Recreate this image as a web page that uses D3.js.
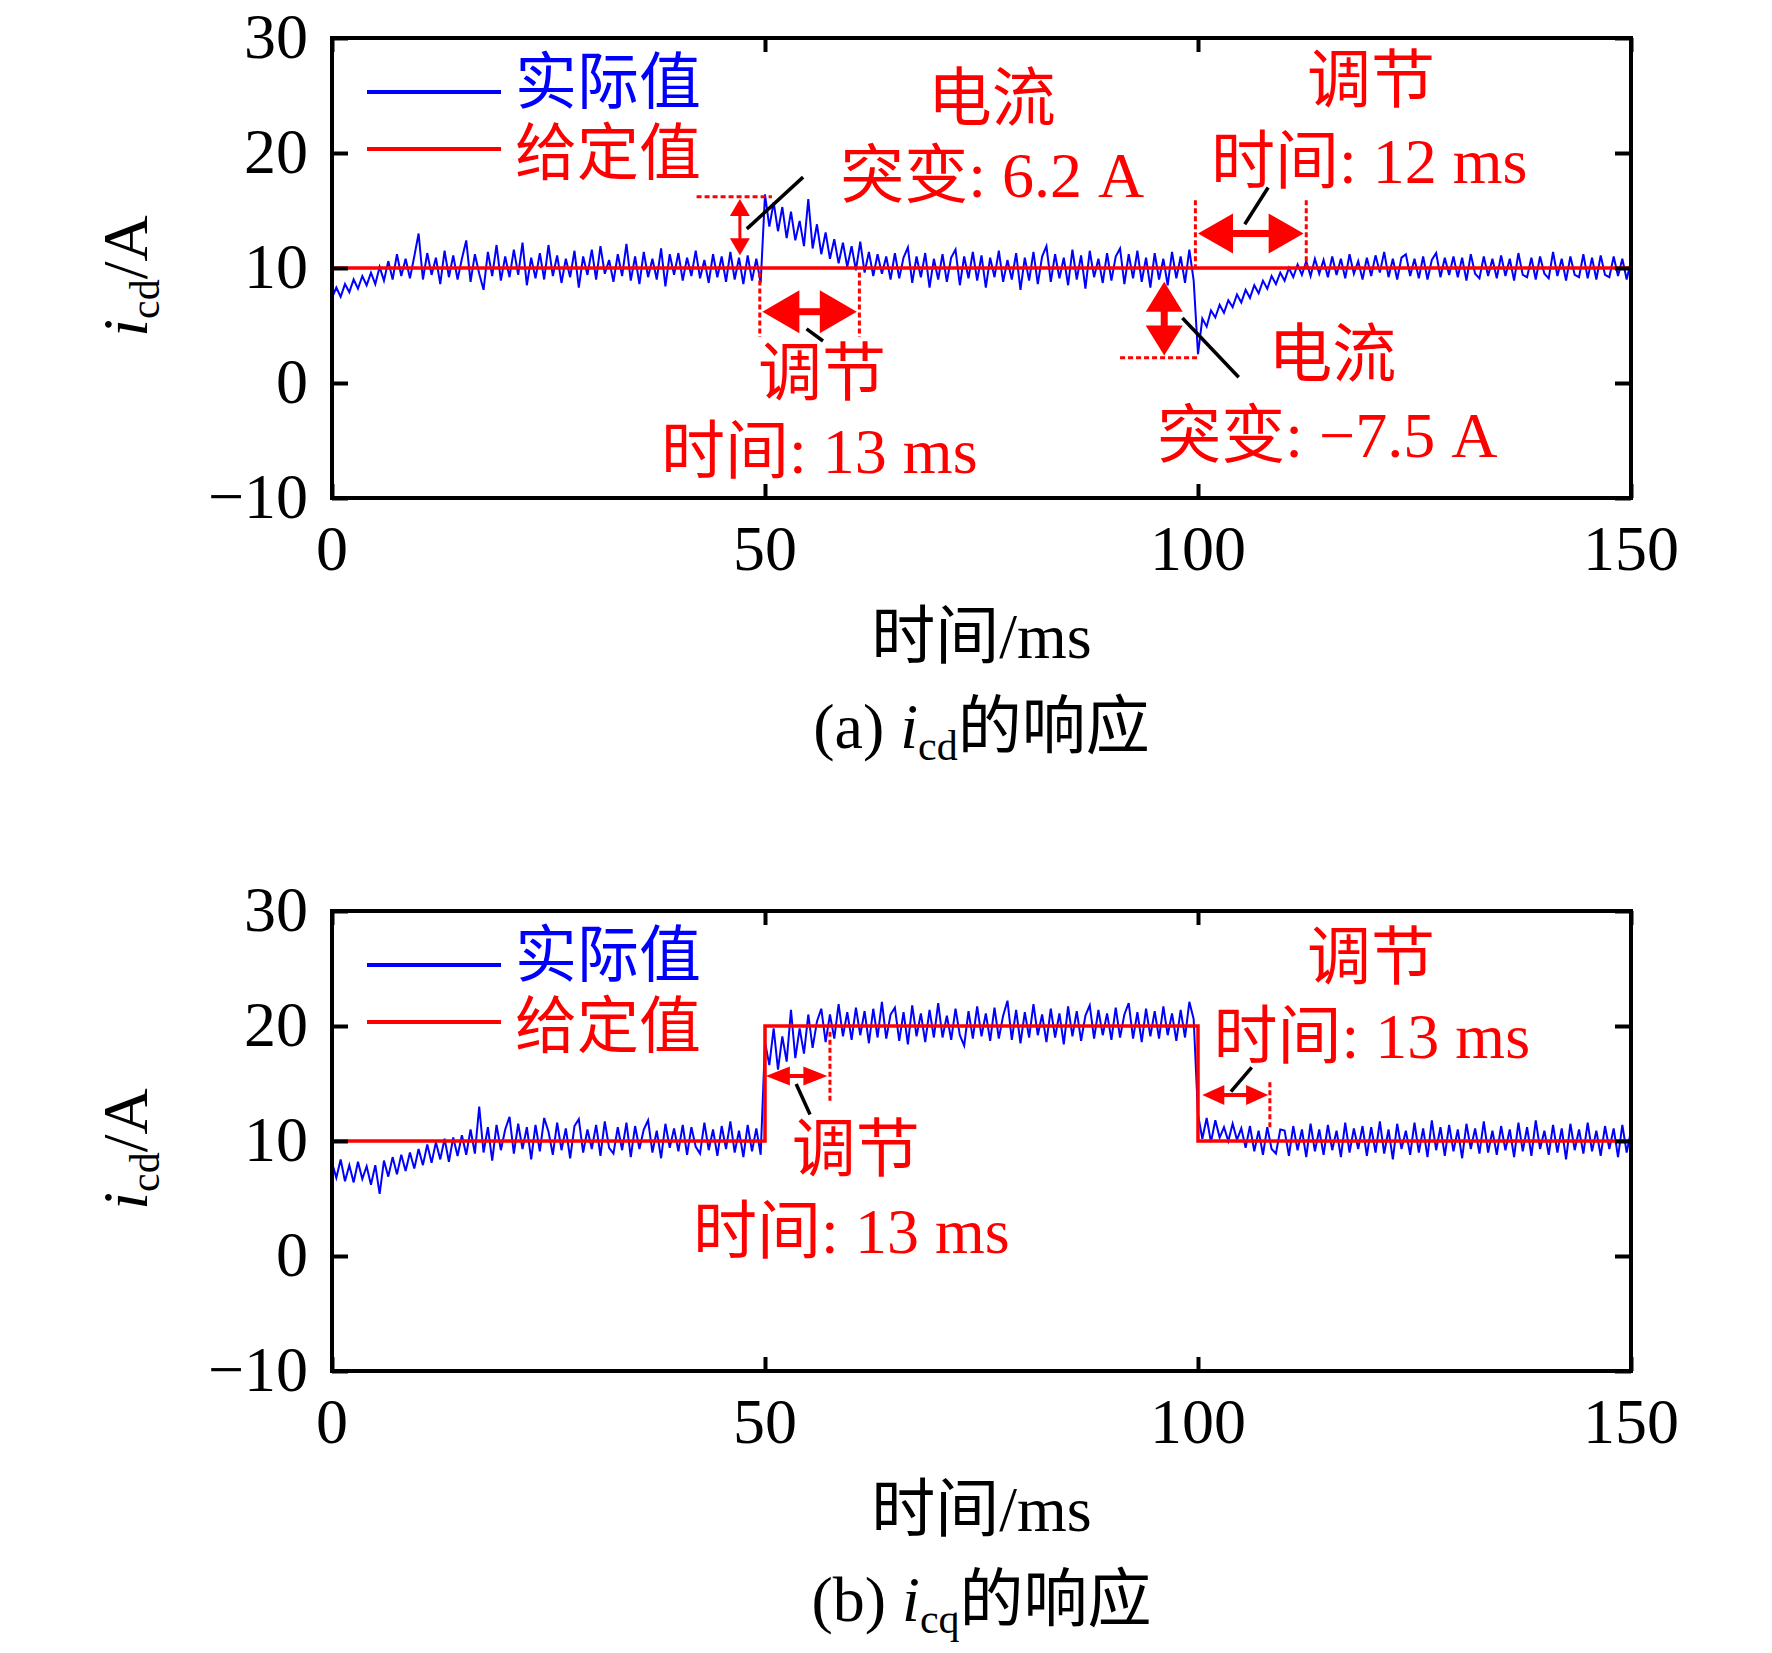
<!DOCTYPE html>
<html>
<head>
<meta charset="utf-8">
<script src="https://cdn.jsdelivr.net/npm/d3@7"></script>
<style>
  body { margin: 0; background: #fff; }
  text { font-family: "Liberation Serif", "Noto Sans CJK SC", serif; }
</style>
</head>
<body>
<div id="chart"></div>
<script>
// sampling step of the measured currents, ms
const timeStep = 0.5;

const icdActual = [
  7.4, 8.3, 7.5, 8.6, 7.9, 9.0, 8.2, 9.3, 8.5, 9.6,
  8.6, 10.1, 8.9, 10.6, 9.0, 11.2, 9.3, 10.8, 9.1, 11.0,
  13.0, 9.0, 11.3, 9.4, 10.9, 8.6, 11.5, 9.2, 11.1, 9.0,
  10.8, 12.4, 8.8, 11.2, 9.5, 8.1, 11.4, 9.3, 12.0, 8.9,
  11.0, 9.2, 11.6, 9.4, 12.2, 8.5, 10.9, 9.1, 11.3, 9.0,
  12.0, 9.3, 11.1, 8.7, 10.8, 9.2, 11.5, 8.3, 11.0, 9.4,
  11.6, 9.0, 11.9, 9.5, 10.7, 8.8, 11.2, 9.3, 12.1, 8.9,
  11.0, 8.6, 11.4, 9.2, 10.8, 9.0, 11.7, 8.4, 11.2, 9.4,
  11.3, 8.9, 10.9, 9.3, 11.5, 9.1, 10.7, 8.7, 11.2, 9.2,
  11.0, 8.8, 11.4, 9.0, 10.9, 8.6, 11.1, 8.9, 10.8, 8.7,
  16.4, 13.6, 15.7, 13.2, 15.3, 12.6, 14.9, 12.4, 14.1, 11.9,
  16.0, 11.7, 13.8, 11.2, 13.1, 10.8, 12.5, 10.4, 12.2, 10.1,
  11.9, 9.8, 12.3, 9.6, 11.4, 9.3, 11.2, 9.5, 11.0, 9.0,
  11.3, 9.1, 10.9, 11.8, 8.7, 11.0, 9.2, 11.3, 8.3, 10.8,
  9.0, 11.2, 8.8, 10.9, 11.6, 8.5, 11.0, 9.1, 11.4, 8.9,
  11.1, 8.3, 10.9, 9.2, 11.5, 8.8, 10.7, 9.0, 11.3, 8.1,
  10.9, 8.9, 11.4, 8.6, 11.0, 11.9, 8.8, 11.2, 9.1, 10.9,
  8.5, 11.6, 9.0, 11.1, 8.2, 11.5, 9.2, 10.8, 8.7, 11.3,
  8.9, 11.0, 11.7, 8.6, 11.2, 9.1, 11.5, 8.8, 10.9, 8.3,
  11.3, 9.0, 10.8, 8.5, 11.4, 9.1, 11.0, 8.7, 11.6, 8.9,
  2.5, 5.6, 4.9, 6.3, 5.7, 6.8, 6.1, 7.2, 6.6, 7.7,
  7.0, 8.1, 7.4, 8.5, 7.8, 8.9, 8.2, 9.3, 8.6, 9.6,
  8.9, 10.0, 9.2, 10.3, 9.4, 10.6, 9.3, 10.8, 9.5, 10.7,
  9.2, 11.0, 9.4, 10.8, 9.1, 11.2, 9.5, 10.6, 9.0, 10.9,
  9.3, 11.1, 9.6, 11.4, 9.2, 10.8, 9.0, 10.9, 11.2, 9.3,
  10.8, 9.1, 11.0, 9.0, 10.7, 11.3, 9.2, 10.9, 9.4, 11.0,
  9.2, 10.9, 8.9, 11.2, 9.5, 9.1, 11.0, 9.3, 10.8, 9.1,
  11.1, 9.3, 10.8, 8.9, 11.3, 9.4, 9.2, 10.9, 9.0, 11.0,
  9.5, 9.1, 11.4, 9.3, 10.8, 8.9, 11.0, 9.4, 9.2, 11.2,
  9.1, 10.9, 9.0, 11.1, 9.4, 9.2, 11.0, 9.3, 10.8, 9.0,
  10.6
];

// measured i_cq, panel (b)
const icqActual = [
  8.1, 6.8, 8.4, 6.5, 7.9, 6.4, 8.2, 6.7, 7.8, 6.2,
  7.9, 5.4, 8.3, 6.9, 8.6, 7.1, 8.8, 7.4, 9.0, 7.6,
  9.3, 7.9, 9.7, 8.1, 9.9, 8.4, 10.2, 8.2, 10.3, 8.7,
  10.5, 8.8, 11.0, 8.9, 13.0, 9.0, 11.2, 8.3, 11.4, 9.2,
  11.0, 12.1, 8.9, 11.5, 9.3, 11.2, 8.4, 11.4, 9.1, 12.0,
  10.8, 8.8, 11.6, 9.2, 11.1, 8.5, 11.3, 11.9, 9.0, 11.0,
  9.3, 11.4, 8.7, 11.7, 9.4, 8.9, 11.2, 9.2, 11.6, 8.6,
  11.3, 9.3, 11.0, 11.8, 9.0, 10.9, 8.5, 11.5, 9.4, 11.1,
  9.1, 11.4, 8.8, 11.2, 9.5, 8.9, 11.6, 9.2, 11.0, 8.7,
  11.3, 9.3, 11.7, 9.0, 10.9, 8.6, 11.4, 9.1, 11.1, 8.8,
  18.6, 16.6, 19.8, 16.2, 19.1, 16.9, 21.4, 17.2, 19.8, 17.6,
  21.0, 18.1, 20.4, 21.5, 18.6, 21.0, 18.9, 21.9, 19.1, 21.2,
  18.8, 21.6, 19.2, 21.3, 18.5, 21.5, 19.0, 22.1, 18.9, 21.0,
  21.6, 18.7, 21.2, 18.4, 21.8, 19.1, 21.1, 18.6, 21.4, 19.0,
  22.0, 19.0, 20.9, 18.8, 21.5, 19.2, 18.3, 21.3, 18.9, 21.7,
  19.1, 21.1, 18.7, 21.6, 18.9, 20.9, 22.2, 18.8, 21.4, 18.5,
  21.2, 19.0, 21.9, 19.2, 21.0, 18.6, 21.5, 19.0, 21.1, 18.4,
  21.7, 19.1, 21.3, 18.7, 20.9, 21.8, 18.9, 21.4, 19.2, 21.1,
  18.8, 21.6, 19.0, 21.0, 22.0, 18.9, 21.2, 18.6, 21.5, 19.1,
  21.3, 18.9, 21.7, 19.2, 21.1, 18.7, 21.4, 19.0, 22.1, 20.6,
  12.3, 10.2, 12.0, 9.9, 11.8, 10.3, 11.2, 10.0, 11.5, 10.1,
  11.1, 9.4, 11.3, 9.1, 10.9, 8.8, 11.2, 9.3, 8.9, 11.0,
  10.9, 8.7, 11.3, 9.2, 11.0, 8.6, 11.5, 9.1, 11.0, 8.8,
  11.4, 9.2, 10.9, 8.6, 11.6, 9.0, 11.1, 9.3, 11.3, 8.7,
  11.2, 9.0, 11.7, 8.9, 11.0, 8.4, 11.5, 9.3, 10.9, 8.8,
  11.6, 9.0, 11.1, 8.6, 11.8, 9.2, 11.2, 8.7, 11.4, 9.1,
  11.0, 8.5, 11.5, 9.3, 11.1, 8.9, 11.7, 9.0, 10.9, 8.8,
  11.3, 9.2, 11.0, 8.6, 11.6, 9.1, 11.2, 8.7, 11.8, 9.3,
  10.9, 8.8, 11.4, 9.0, 11.1, 8.4, 11.5, 9.2, 11.0, 8.9,
  11.6, 9.1, 10.9, 8.7, 11.3, 9.3, 11.1, 8.6, 11.4, 9.0,
  10.9
];

// reference (setpoint) values, step changes
const icdRefTimes = [0, 150];
const icdRefValues = [10, 10];
const icqRefTimes = [0, 50, 100, 150];
const icqRefValues = [10, 20, 10, 10];

const xTickValues = [0, 50, 100, 150];
const yTickValues = [-10, 0, 10, 20, 30];
const legendLabels = ["实际值", "给定值"];
const captionLetters = ["(a) ", "(b) "];
const captionSubs = ["cd", "cq"];

const W = 1772, H = 1653;
const left = 332, plotW = 1299, plotH = 460;
const panelTops = [38, 911];
const BLUE = "#0000ff", RED = "#ff0000";
const FS = 64;

const svg = d3.select("#chart").append("svg")
  .attr("width", W).attr("height", H)
  .style("background", "#fff");

// double-headed arrow between two pixel points
function doubleArrow(g, p1, p2, headLen, headW, shaftW) {
  const dx = p2[0] - p1[0], dy = p2[1] - p1[1];
  const len = Math.hypot(dx, dy);
  const ux = dx / len, uy = dy / len, nx = -uy, ny = ux;
  g.append("line")
    .attr("x1", p1[0] + ux * headLen * 0.9).attr("y1", p1[1] + uy * headLen * 0.9)
    .attr("x2", p2[0] - ux * headLen * 0.9).attr("y2", p2[1] - uy * headLen * 0.9)
    .attr("stroke", RED).attr("stroke-width", shaftW);
  [[p1, -1], [p2, 1]].forEach(([p, s]) => {
    const bx = p[0] - s * ux * headLen, by = p[1] - s * uy * headLen;
    g.append("polygon")
      .attr("points", [
        [p[0], p[1]],
        [bx + nx * headW / 2, by + ny * headW / 2],
        [bx - nx * headW / 2, by - ny * headW / 2]
      ].map(d => d.join(",")).join(" "))
      .attr("fill", RED);
  });
}

function drawPanel(idx, actual, refT, refV, notes) {
  const top = panelTops[idx];
  const x = d3.scaleLinear().domain([0, 150]).range([left, left + plotW]);
  const y = d3.scaleLinear().domain([-10, 30]).range([top + plotH, top]);
  const g = svg.append("g");

  const pts = actual.map((v, i) => [i * timeStep, v]);
  const line = d3.line().x(d => x(d[0])).y(d => y(d[1]));

  g.append("path").datum(pts)
    .attr("d", line)
    .attr("fill", "none").attr("stroke", BLUE).attr("stroke-width", 2)
    .attr("stroke-linejoin", "miter");

  const ref = refT.map((t, i) => [t, refV[i]]);
  g.append("path").datum(ref)
    .attr("d", d3.line().x(d => x(d[0])).y(d => y(d[1])).curve(d3.curveStepAfter))
    .attr("fill", "none").attr("stroke", RED).attr("stroke-width", 3.5);

  // axes: ticks point inwards on all four sides
  const axStyle = a => a.call(s => s.select(".domain").remove())
    .call(s => s.selectAll("line").attr("stroke", "#000").attr("stroke-width", 4));
  g.append("g").attr("transform", `translate(0,${top + plotH})`)
    .call(d3.axisBottom(x).tickValues(xTickValues).tickSizeInner(-14).tickFormat(""))
    .call(axStyle);
  g.append("g").attr("transform", `translate(0,${top})`)
    .call(d3.axisTop(x).tickValues(xTickValues).tickSizeInner(-14).tickFormat(""))
    .call(axStyle);
  g.append("g").attr("transform", `translate(${left},0)`)
    .call(d3.axisLeft(y).tickValues(yTickValues).tickSizeInner(-16).tickFormat(""))
    .call(axStyle);
  g.append("g").attr("transform", `translate(${left + plotW},0)`)
    .call(d3.axisRight(y).tickValues(yTickValues).tickSizeInner(-16).tickFormat(""))
    .call(axStyle);

  g.append("rect")
    .attr("x", left).attr("y", top).attr("width", plotW).attr("height", plotH)
    .attr("fill", "none").attr("stroke", "#000").attr("stroke-width", 4);

  // tick labels
  g.selectAll(".xl").data(xTickValues).enter().append("text")
    .attr("x", d => x(d)).attr("y", top + plotH + 72)
    .attr("text-anchor", "middle").attr("font-size", FS)
    .text(d => d);
  g.selectAll(".yl").data(yTickValues).enter().append("text")
    .attr("x", left - 24).attr("y", d => y(d) + 20)
    .attr("text-anchor", "end").attr("font-size", FS)
    .text(d => d < 0 ? "\u2212" + Math.abs(d) : d);

  // y title
  const yt = g.append("text")
    .attr("transform", `translate(147,${top + 238}) rotate(-90)`)
    .attr("text-anchor", "middle").attr("font-size", FS);
  yt.append("tspan").attr("font-style", "italic").text("i");
  yt.append("tspan").attr("font-size", 42).attr("dy", 12).text("cd");
  yt.append("tspan").attr("dy", -12).text("/A");

  // x title and caption
  g.append("text").attr("x", x(75)).attr("y", top + 620)
    .attr("text-anchor", "middle").attr("font-size", FS).text("时间/ms");
  const cap = g.append("text").attr("x", x(75)).attr("y", top + 710)
    .attr("text-anchor", "middle").attr("font-size", FS);
  cap.append("tspan").text(captionLetters[idx]);
  cap.append("tspan").attr("font-style", "italic").text("i");
  cap.append("tspan").attr("font-size", 42).attr("dy", 12).text(captionSubs[idx]);
  cap.append("tspan").attr("dy", -12).text("的响应");

  // legend: text rows sit a little further apart than the sample lines
  [BLUE, RED].forEach((c, i) => {
    const ly = top + 54 + i * 57;
    g.append("line").attr("x1", 367).attr("x2", 501).attr("y1", ly).attr("y2", ly)
      .attr("stroke", c).attr("stroke-width", 4);
    g.append("text").attr("x", 515).attr("y", top + 66 + i * 71)
      .attr("font-size", 62).attr("fill", c).text(legendLabels[i]);
  });

  // annotations, all placed in data coordinates
  const P = d => [x(d[0]), y(d[1])];
  notes.dotted.forEach(d => {
    g.append("line")
      .attr("x1", x(d[0])).attr("y1", y(d[1])).attr("x2", x(d[2])).attr("y2", y(d[3]))
      .attr("stroke", RED).attr("stroke-width", 3).attr("stroke-dasharray", "5,3");
  });
  notes.arrows.forEach(d => doubleArrow(g, P(d.a), P(d.b), d.hl, d.hw, d.sw));
  notes.leaders.forEach(d => {
    g.append("line")
      .attr("x1", x(d[0])).attr("y1", y(d[1])).attr("x2", x(d[2])).attr("y2", y(d[3]))
      .attr("stroke", "#000").attr("stroke-width", 3.5);
  });
  notes.texts.forEach(d => {
    g.append("text").attr("x", x(d[0])).attr("y", y(d[1]))
      .attr("font-size", FS).attr("fill", RED).text(d[2]);
  });
}

drawPanel(0, icdActual, icdRefTimes, icdRefValues, {
  dotted: [
    [42.1, 16.2, 50.8, 16.2],
    [49.4, 9.6, 49.4, 4.0], [60.9, 9.6, 60.9, 4.0],
    [99.7, 15.9, 99.7, 10.1], [112.5, 15.9, 112.5, 10.1],
    [91.0, 2.2, 100.0, 2.2]
  ],
  arrows: [
    { a: [47.1, 16.0], b: [47.1, 11.1], hl: 17, hw: 20, sw: 3 },
    { a: [49.7, 6.2], b: [60.6, 6.2], hl: 37, hw: 43, sw: 7 },
    { a: [100.0, 13.0], b: [112.2, 13.0], hl: 35, hw: 40, sw: 7 },
    { a: [96.1, 8.8], b: [96.1, 2.4], hl: 30, hw: 37, sw: 7 }
  ],
  leaders: [
    [47.9, 13.4, 54.4, 17.9],
    [54.8, 4.7, 56.7, 3.65],
    [105.4, 13.8, 108.1, 17.0],
    [98.2, 5.65, 104.7, 0.5]
  ],
  texts: [
    [68.8, 22.9, "电流"],
    [58.7, 16.2, "突变: 6.2 A"],
    [49.2, -1.0, "调节"],
    [38.0, -7.8, "时间: 13 ms"],
    [112.6, 24.4, "调节"],
    [101.5, 17.4, "时间: 12 ms"],
    [108.1, 0.6, "电流"],
    [95.3, -6.4, "突变: \u22127.5 A"]
  ]
});

drawPanel(1, icqActual, icqRefTimes, icqRefValues, {
  dotted: [
    [57.5, 19.5, 57.5, 13.4],
    [108.3, 15.1, 108.3, 11.1]
  ],
  arrows: [
    { a: [50.1, 15.65], b: [57.2, 15.65], hl: 24, hw: 19, sw: 4 },
    { a: [100.5, 14.0], b: [108.1, 14.0], hl: 22, hw: 20, sw: 4 }
  ],
  leaders: [
    [53.6, 14.96, 55.2, 12.3],
    [103.8, 14.3, 106.2, 16.4]
  ],
  texts: [
    [53.1, 7.4, "调节"],
    [41.7, 0.26, "时间: 13 ms"],
    [112.6, 24.1, "调节"],
    [101.8, 17.2, "时间: 13 ms"]
  ]
});
</script>
</body>
</html>
